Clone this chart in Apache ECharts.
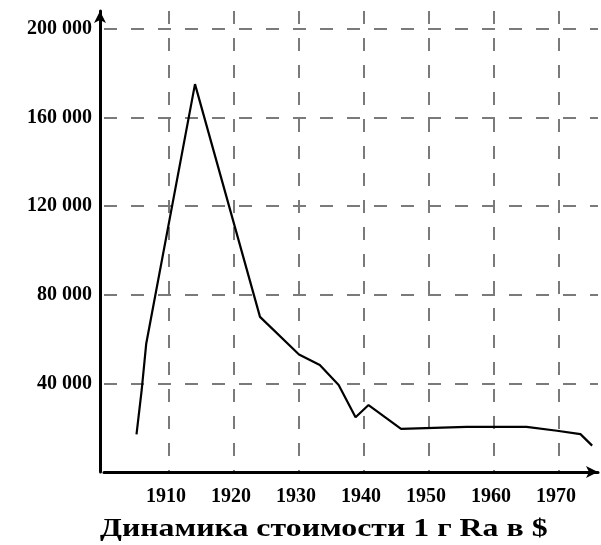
<!DOCTYPE html>
<html>
<head>
<meta charset="utf-8">
<script src="https://cdn.jsdelivr.net/npm/echarts@6/dist/echarts.min.js"></script>
<style>
  html, body { margin: 0; padding: 0; background: #fff; }
  #chart { width: 601px; height: 545px; }
</style>
</head>
<body>
<div id="chart"></div>
<script>
// Price of one gram of radium, US dollars, by year
const years  = [1905, 1905.8, 1906.5, 1914, 1924, 1930, 1933.2, 1936.1, 1938.7, 1940.7, 1945.7, 1955.8, 1965, 1969.7, 1973.3, 1975.1];
const prices = [17000, 37000, 58000, 175000, 70000, 53000, 48300, 39300, 24700, 30200, 19500, 20400, 20400, 18600, 17100, 11900];
const title = 'Динамика стоимости 1 г Ra в $';

const serif = '"Liberation Serif", "DejaVu Serif", serif';
const gridDash = { color: '#7a7a7a', width: 2, type: [13, 14] };

const chart = echarts.init(document.getElementById('chart'));
chart.setOption({
  animation: false,
  backgroundColor: '#fff',
  // caption under the chart, set in a widened bold serif
  graphic: [{
    type: 'text',
    x: 100,
    y: 516,
    scaleX: 1.225,
    style: {
      text: title,
      fontFamily: serif,
      fontWeight: 'bold',
      fontSize: 26,
      fill: '#000'
    }
  }],
  grid: { left: 104, right: 3, top: 11, bottom: 73 },
  xAxis: {
    type: 'value',
    min: 1900,
    max: 1976,
    interval: 10,
    axisLine: { lineStyle: { color: '#000', width: 3 }, symbol: ['none', 'arrow'], symbolSize: [9, 12] },
    axisTick: { show: false },
    splitLine: { show: true, showMinLine: false, showMaxLine: false, lineStyle: gridDash },
    axisLabel: {
      margin: 15,
      padding: [0, 6, 0, 0],
      fontFamily: serif, fontWeight: 'bold', fontSize: 20, color: '#000',
      formatter: v => (v % 10 === 0 && v > 1900) ? String(v) : ''
    }
  },
  yAxis: {
    type: 'value',
    min: 0,
    max: 208000,
    interval: 40000,
    offset: 4,
    axisLine: { show: true, lineStyle: { color: '#000', width: 3 }, symbol: ['none', 'arrow'], symbolSize: [9, 12] },
    axisTick: { show: false },
    splitLine: { show: true, showMinLine: false, showMaxLine: false, lineStyle: gridDash },
    axisLabel: {
      margin: 8,
      fontFamily: serif, fontWeight: 'bold', fontSize: 20, color: '#000',
      formatter: v => (v % 40000 === 0 && v > 0) ? String(v).replace(/(\d)(?=(\d{3})+$)/g, '$1 ') : ''
    }
  },
  series: [{
    type: 'line',
    data: years.map((y, i) => [y, prices[i]]),
    showSymbol: false,
    lineStyle: { color: '#000', width: 2.2 }
  }]
});
</script>
</body>
</html>
